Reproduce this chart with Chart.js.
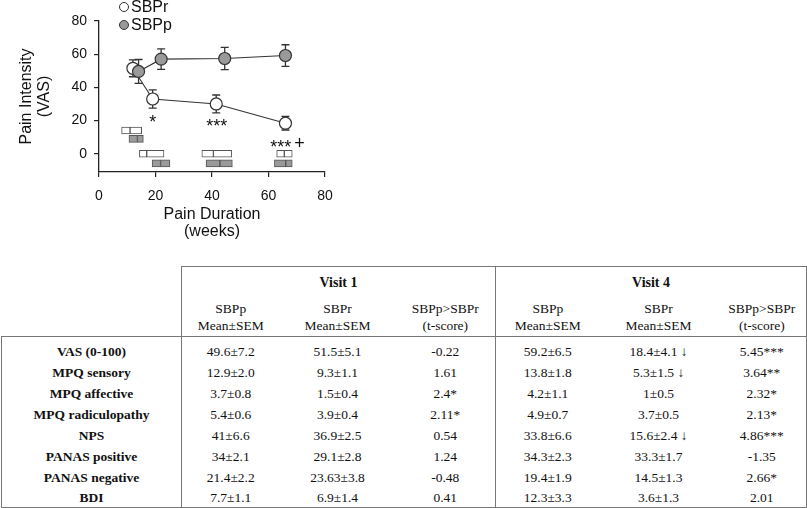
<!DOCTYPE html>
<html>
<head>
<meta charset="utf-8">
<script src="https://cdn.jsdelivr.net/npm/chart.js@4.4.1/dist/chart.umd.min.js"></script>
<style>
  html, body { margin: 0; padding: 0; background: #fff; }
  body { width: 807px; height: 508px; position: relative; overflow: hidden; }
  #chartBox { position: absolute; left: 0; top: 0; width: 345px; height: 245px; }
  #stats {
    position: absolute; left: 1px; top: 266px; width: 805px;
    border-collapse: collapse; table-layout: fixed;
    font-family: "Liberation Serif", "Times New Roman", serif;
    font-size: 13.5px; color: #111;
  }
  #stats th, #stats td { padding: 0; text-align: center; white-space: nowrap; }
  #stats .visit th { height: 31px; font-weight: bold; font-size: 14px; }
  #stats .visit th.grp { border-top: 1.5px solid #777; }
  #stats .sub th { height: 38px; font-weight: normal; line-height: 17px; border-bottom: 1.5px solid #777; }
  #stats .left { border-left: 1.5px solid #777; }
  #stats .right { border-right: 1.5px solid #777; }
  #stats td { line-height: 21px; }
  #stats tbody tr:first-child td { padding-top: 4px; }
  #stats tbody tr:last-child td { line-height: 18px; padding-top: 1px; border-bottom: 1.5px solid #777; }
  #stats td.measure { font-weight: bold; }
</style>
</head>
<body>
<div id="chartBox"><canvas id="painChart" width="345" height="245"></canvas></div>

<table id="stats">
  <colgroup>
    <col style="width:180px"><col style="width:98px"><col style="width:116px"><col style="width:100px">
    <col style="width:104px"><col style="width:118px"><col style="width:89px">
  </colgroup>
  <thead>
    <tr class="visit">
      <th></th>
      <th colspan="3" class="grp left">Visit 1</th>
      <th colspan="3" class="grp left right">Visit 4</th>
    </tr>
    <tr class="sub">
      <th></th>
      <th class="left">SBPp<br>Mean±SEM</th><th>SBPr<br>Mean±SEM</th><th>SBPp&gt;SBPr<br>(t-score)</th>
      <th class="left">SBPp<br>Mean±SEM</th><th>SBPr<br>Mean±SEM</th><th class="right">SBPp&gt;SBPr<br>(t-score)</th>
    </tr>
  </thead>
  <tbody id="statsBody"></tbody>
</table>

<script>
// --- datos de la figura ---

// SBPr (recuperados) y SBPp (persistentes): semanas, VAS media, SEM
const rWeeks = [12, 19, 41.5, 66];
const rVas = [51.5, 33, 30, 18.4];
const rSem = [5.1, 5.5, 5.4, 4.1];

const pWeeks = [14, 22, 44.5, 66];
const pVas = [49.6, 57, 57.4, 59.2];
const pSem = [7.2, 6.2, 6.7, 6.5];

// cajas de duración: nivel VAS donde se dibujan, mínimo / mediana / máximo (semanas)
const rBoxLevel = [14, 0, 0, 0];
const rBoxLow = [8, 14.3, 36.4, 62.9];
const rBoxMid = [11, 16.9, 40.5, 65.6];
const rBoxHigh = [15.1, 23, 47, 68.4];

const pBoxLevel = [9, -5.8, -5.8, -5.8];
const pBoxLow = [10.6, 18.8, 37.9, 62.1];
const pBoxMid = [13.6, 21.8, 42.8, 66.1];
const pBoxHigh = [15.7, 25.1, 47.2, 68.4];

// marcas de significación
const sigText = ['*', '***', '***', '+'];
const sigWeeks = [19, 41.7, 64.3, 71];
const sigVas = [21.6, 19.2, 6.6, 6.6];

// tabla
const measures = ['VAS (0-100)', 'MPQ sensory', 'MPQ affective', 'MPQ radiculopathy',
  'NPS', 'PANAS positive', 'PANAS negative', 'BDI'];
const v1Persist = ['49.6±7.2', '12.9±2.0', '3.7±0.8', '5.4±0.6', '41±6.6', '34±2.1', '21.4±2.2', '7.7±1.1'];
const v1Recover = ['51.5±5.1', '9.3±1.1', '1.5±0.4', '3.9±0.4', '36.9±2.5', '29.1±2.8', '23.63±3.8', '6.9±1.4'];
const v1T = ['-0.22', '1.61', '2.4*', '2.11*', '0.54', '1.24', '-0.48', '0.41'];
const v4Persist = ['59.2±6.5', '13.8±1.8', '4.2±1.1', '4.9±0.7', '33.8±6.6', '34.3±2.3', '19.4±1.9', '12.3±3.3'];
const v4Recover = ['18.4±4.1 ↓', '5.3±1.5 ↓', '1±0.5', '3.7±0.5', '15.6±2.4 ↓', '33.3±1.7', '14.5±1.3', '3.6±1.3'];
const v4T = ['5.45***', '3.64**', '2.32*', '2.13*', '4.86***', '-1.35', '2.66*', '2.01'];

// --- tabla ---
const body = document.getElementById('statsBody');
measures.forEach((m, i) => {
  const tr = document.createElement('tr');
  const cells = [
    [m, 'measure left right'],
    [v1Persist[i], ''], [v1Recover[i], ''], [v1T[i], ''],
    [v4Persist[i], 'left'], [v4Recover[i], ''], [v4T[i], 'right']
  ];
  cells.forEach(([txt, cls]) => {
    const td = document.createElement('td');
    td.textContent = txt;
    if (cls) td.className = cls;
    tr.appendChild(td);
  });
  body.appendChild(tr);
});

// --- gráfico ---
const FONT = '"Liberation Sans", Arial, sans-serif';
Chart.defaults.font.family = FONT;
Chart.defaults.color = '#111';

function points(xs, ys) {
  return xs.map((x, i) => ({ x, y: ys[i] }));
}

function boxSegments(level, low, mid, high) {
  const out = [];
  level.forEach((y, i) => {
    out.push({ x: [low[i], mid[i]], y });
    out.push({ x: [mid[i], high[i]], y });
  });
  return out;
}

const errorBars = {
  id: 'errorBars',
  beforeDatasetDraw(chart, args) {
    const ds = chart.data.datasets[args.index];
    if (!ds.sem) return;
    const { ctx, scales: { x, y } } = chart;
    ctx.save();
    ctx.strokeStyle = '#333';
    ctx.lineWidth = 1.3;
    ds.data.forEach((pt, i) => {
      const px = x.getPixelForValue(pt.x);
      const top = y.getPixelForValue(pt.y + ds.sem[i]);
      const bot = y.getPixelForValue(pt.y - ds.sem[i]);
      ctx.beginPath();
      ctx.moveTo(px, top); ctx.lineTo(px, bot);
      ctx.moveTo(px - 4, top); ctx.lineTo(px + 4, top);
      ctx.moveTo(px - 4, bot); ctx.lineTo(px + 4, bot);
      ctx.stroke();
    });
    ctx.restore();
  }
};

const marks = {
  id: 'marks',
  afterDatasetsDraw(chart) {
    const { ctx, scales: { x, y }, chartArea } = chart;
    ctx.save();
    ctx.fillStyle = '#111';
    ctx.textAlign = 'center';
    ctx.textBaseline = 'alphabetic';
    ctx.font = '18px ' + FONT;
    sigText.forEach((t, i) => {
      // centrar visualmente el glifo (el asterisco va alto en la línea)
      const lift = t === '+' ? 0.33 : 0.57;
      ctx.fillText(t, x.getPixelForValue(sigWeeks[i]), y.getPixelForValue(sigVas[i]) + 18 * lift);
    });

    // leyenda propia, apilada encima del eje
    const series = chart.data.datasets.filter(d => d.sem);
    ctx.font = '16px ' + FONT;
    ctx.textAlign = 'left';
    ctx.textBaseline = 'middle';
    series.forEach((d, i) => {
      const cy = chartArea.top - 14 + i * 18;
      const cx = chartArea.left + 25;
      ctx.beginPath();
      ctx.arc(cx, cy, 4.5, 0, Math.PI * 2);
      ctx.fillStyle = d.pointBackgroundColor;
      ctx.fill();
      ctx.lineWidth = 1;
      ctx.strokeStyle = '#333';
      ctx.stroke();
      ctx.fillStyle = '#111';
      ctx.fillText(d.label, cx + 7, cy + 1);
    });
    ctx.restore();
  }
};

new Chart(document.getElementById('painChart'), {
  type: 'scatter',
  data: {
    datasets: [
      {
        label: 'SBPr',
        data: points(rWeeks, rVas),
        sem: rSem,
        showLine: true,
        borderColor: '#333',
        borderWidth: 1.1,
        pointRadius: 6,
        pointBorderWidth: 1.2,
        pointBorderColor: '#333',
        pointBackgroundColor: '#ffffff',
        order: 2
      },
      {
        label: 'SBPp',
        data: points(pWeeks, pVas),
        sem: pSem,
        showLine: true,
        borderColor: '#333',
        borderWidth: 1.1,
        pointRadius: 6,
        pointBorderWidth: 1.2,
        pointBorderColor: '#333',
        pointBackgroundColor: '#9a9a9a',
        order: 1
      },
      {
        type: 'bar',
        label: 'SBPr duration',
        indexAxis: 'y',
        data: boxSegments(rBoxLevel, rBoxLow, rBoxMid, rBoxHigh),
        grouped: false,
        barThickness: 7,
        borderSkipped: false,
        borderWidth: 1,
        borderColor: '#555',
        backgroundColor: '#ffffff',
        order: 3
      },
      {
        type: 'bar',
        label: 'SBPp duration',
        indexAxis: 'y',
        data: boxSegments(pBoxLevel, pBoxLow, pBoxMid, pBoxHigh),
        grouped: false,
        barThickness: 7,
        borderSkipped: false,
        borderWidth: 1,
        borderColor: '#555',
        backgroundColor: '#9a9a9a',
        order: 3
      }
    ]
  },
  options: {
    responsive: false,
    animation: false,
    devicePixelRatio: 1,
    layout: { padding: { top: 21, right: 20, left: 0, bottom: 0 } },
    plugins: {
      legend: { display: false },
      tooltip: { enabled: false }
    },
    scales: {
      x: {
        type: 'linear',
        min: 0,
        max: 80,
        offset: false,
        ticks: { stepSize: 20, padding: 11, color: '#111', font: { size: 14 } },
        grid: { drawOnChartArea: false, drawTicks: true, tickLength: 5, color: '#222', lineWidth: 1.2, offset: false },
        border: { color: '#222', width: 1.3 },
        title: {
          display: true,
          text: ['Pain Duration', '(weeks)'],
          color: '#111',
          font: { size: 16, lineHeight: 1.05 },
          padding: { top: 0, bottom: 5 }
        },
        afterFit(scale) { scale.height = 73; }
      },
      y: {
        type: 'linear',
        min: -11,
        max: 80,
        offset: false,
        beginAtZero: false,
        ticks: { stepSize: 20, includeBounds: false, padding: 7, color: '#111', font: { size: 14 } },
        grid: { drawOnChartArea: false, drawTicks: true, tickLength: 5, color: '#222', lineWidth: 1.2, offset: false },
        border: { color: '#222', width: 1.3 },
        title: {
          display: true,
          text: ['Pain Intensity', '(VAS)'],
          color: '#111',
          font: { size: 16, lineHeight: 1.15 },
          padding: { top: 17, bottom: 0 }
        },
        afterFit(scale) { scale.width = 99; }
      }
    }
  },
  plugins: [errorBars, marks]
});
</script>
</body>
</html>
